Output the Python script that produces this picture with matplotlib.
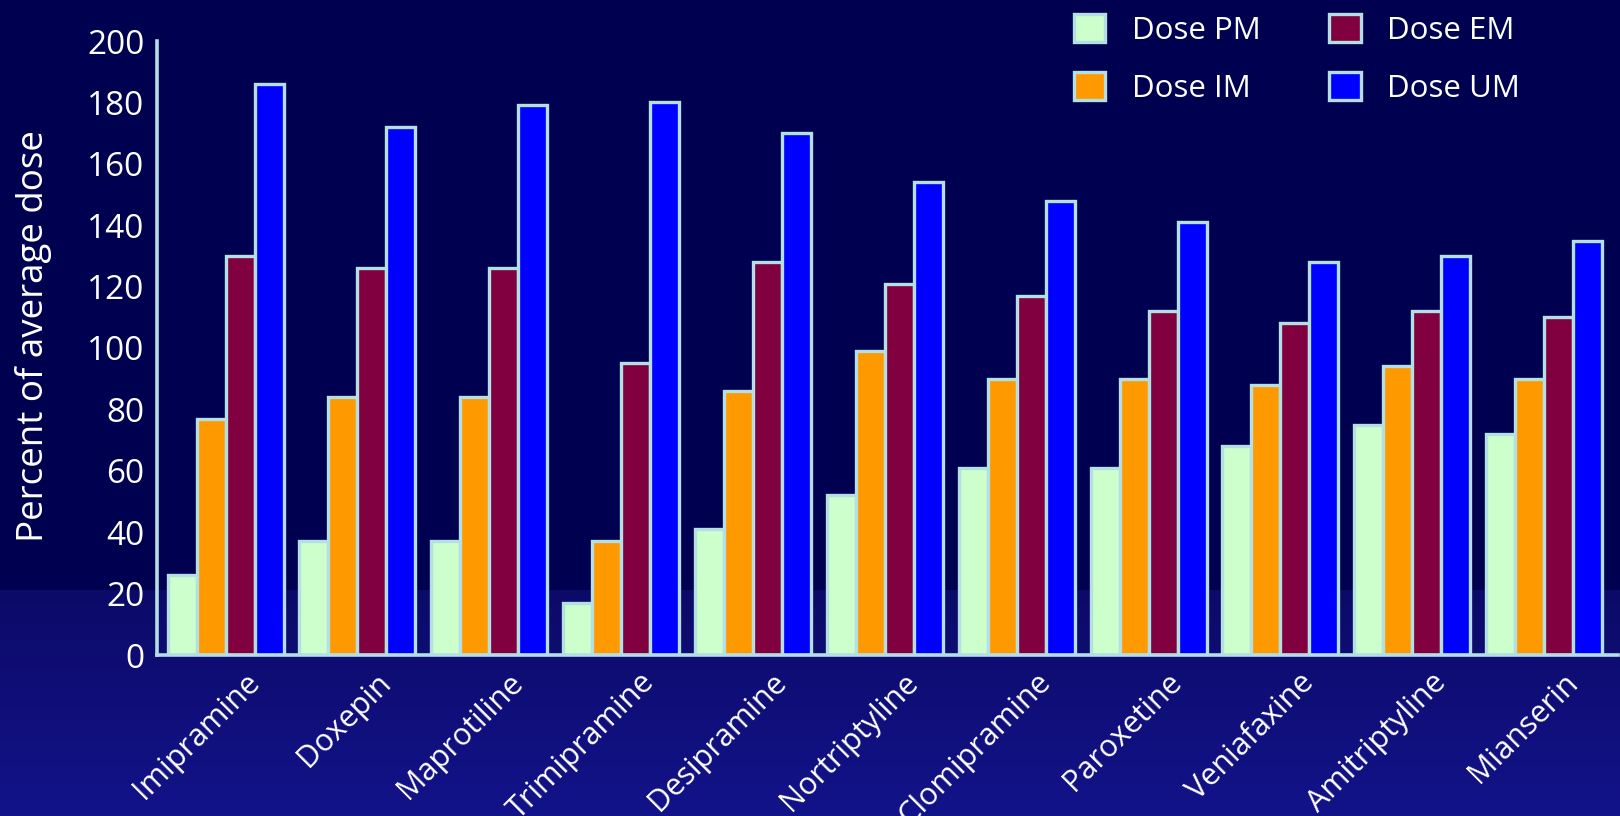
import numpy as np
import matplotlib
matplotlib.use("Agg")
import matplotlib.pyplot as plt
from matplotlib.transforms import ScaledTranslation
from matplotlib.patches import Patch

plt.rcParams['font.family'] = ['Open Sans', 'DejaVu Sans']

drugs = ["Imipramine", "Doxepin", "Maprotiline", "Trimipramine", "Desipramine",
         "Nortriptyline", "Clomipramine", "Paroxetine", "Veniafaxine",
         "Amitriptyline", "Mianserin"]
dose_pm = [26, 37, 37, 17, 41, 52, 61, 61, 68, 75, 72]
dose_im = [77, 84, 84, 37, 86, 99, 90, 90, 88, 94, 90]
dose_em = [130, 126, 126, 95, 128, 121, 117, 112, 108, 112, 110]
dose_um = [186, 172, 179, 180, 170, 154, 148, 141, 128, 130, 135]
series_names = ["Dose PM", "Dose IM", "Dose EM", "Dose UM"]
series_colors = ["#ccffcc", "#ff9900", "#800040", "#0000ff"]
yticks = [0, 20, 40, 60, 80, 100, 120, 140, 160, 180, 200]

W, H, DPI = 1620, 816, 100
fig = plt.figure(figsize=(W / DPI, H / DPI), dpi=DPI)
fig.patch.set_facecolor("#000050")

# background gradient
bg = fig.add_axes([0, 0, 1, 1], zorder=-10)
bg.set_axis_off()
rows = np.zeros((H, 1, 3))
top = np.array([0, 0, 80]) / 255.0
b1 = np.array([12, 10, 104]) / 255.0
b2 = np.array([19, 19, 138]) / 255.0
split = 590
for r in range(H):
    if r < split:
        rows[r, 0] = top
    else:
        t = (r - split) / (H - split)
        rows[r, 0] = b1 * (1 - t) + b2 * t
bg.imshow(rows, aspect="auto", extent=[0, 1, 0, 1], origin="upper")

edge = "#b4e0e4"
ax = fig.add_axes([157 / W, 1 - 655 / H, (1618 - 157) / W, (655 - 41) / H])
ax.set_facecolor("none")

x = np.arange(len(drugs))
bw = 0.22
series = [dose_pm, dose_im, dose_em, dose_um]
for i, (vals, name, col) in enumerate(zip(series, series_names, series_colors)):
    ax.bar(x + (i - 1.5) * bw, vals, width=bw, color=col, edgecolor=edge,
           linewidth=2.4, label=name, zorder=2)

ax.set_xlim(-0.52, 10.56)
ax.set_ylim(0, 200)
ax.set_yticks(yticks)
ax.set_yticklabels([str(v) for v in yticks])
ax.set_xticks(x)
ax.set_xticklabels(drugs, rotation=45, ha="right", va="center",
                   rotation_mode="anchor")
ax.tick_params(axis="both", length=0, colors="white", labelsize=24)
ax.tick_params(axis="x", labelsize=22)
ax.tick_params(axis="y", pad=9)
off = ScaledTranslation(29 / DPI, -18 / DPI, fig.dpi_scale_trans)
for lab in ax.get_xticklabels():
    lab.set_transform(lab.get_transform() + off)

for s in ["top", "right"]:
    ax.spines[s].set_visible(False)
for s in ["left", "bottom"]:
    ax.spines[s].set_color(edge)
    ax.spines[s].set_linewidth(2.6)
    ax.spines[s].set_zorder(3)

ax.set_ylabel("Percent of average dose", color="white", fontsize=26.5)
ax.yaxis.set_label_coords(-0.072, 0.52)

handles = [Patch(facecolor=c, edgecolor=edge, linewidth=2.4) for c in series_colors]
leg = fig.legend(handles, series_names, loc="upper left",
                 bbox_to_anchor=(1046 / W, 1 + 14 / H), ncol=2, frameon=False,
                 fontsize=22.5, labelcolor="white", handlelength=1.0,
                 handleheight=1.0, handletextpad=0.85, columnspacing=2.2,
                 labelspacing=0.85)

fig.savefig("out.png", dpi=DPI, facecolor=fig.get_facecolor())
